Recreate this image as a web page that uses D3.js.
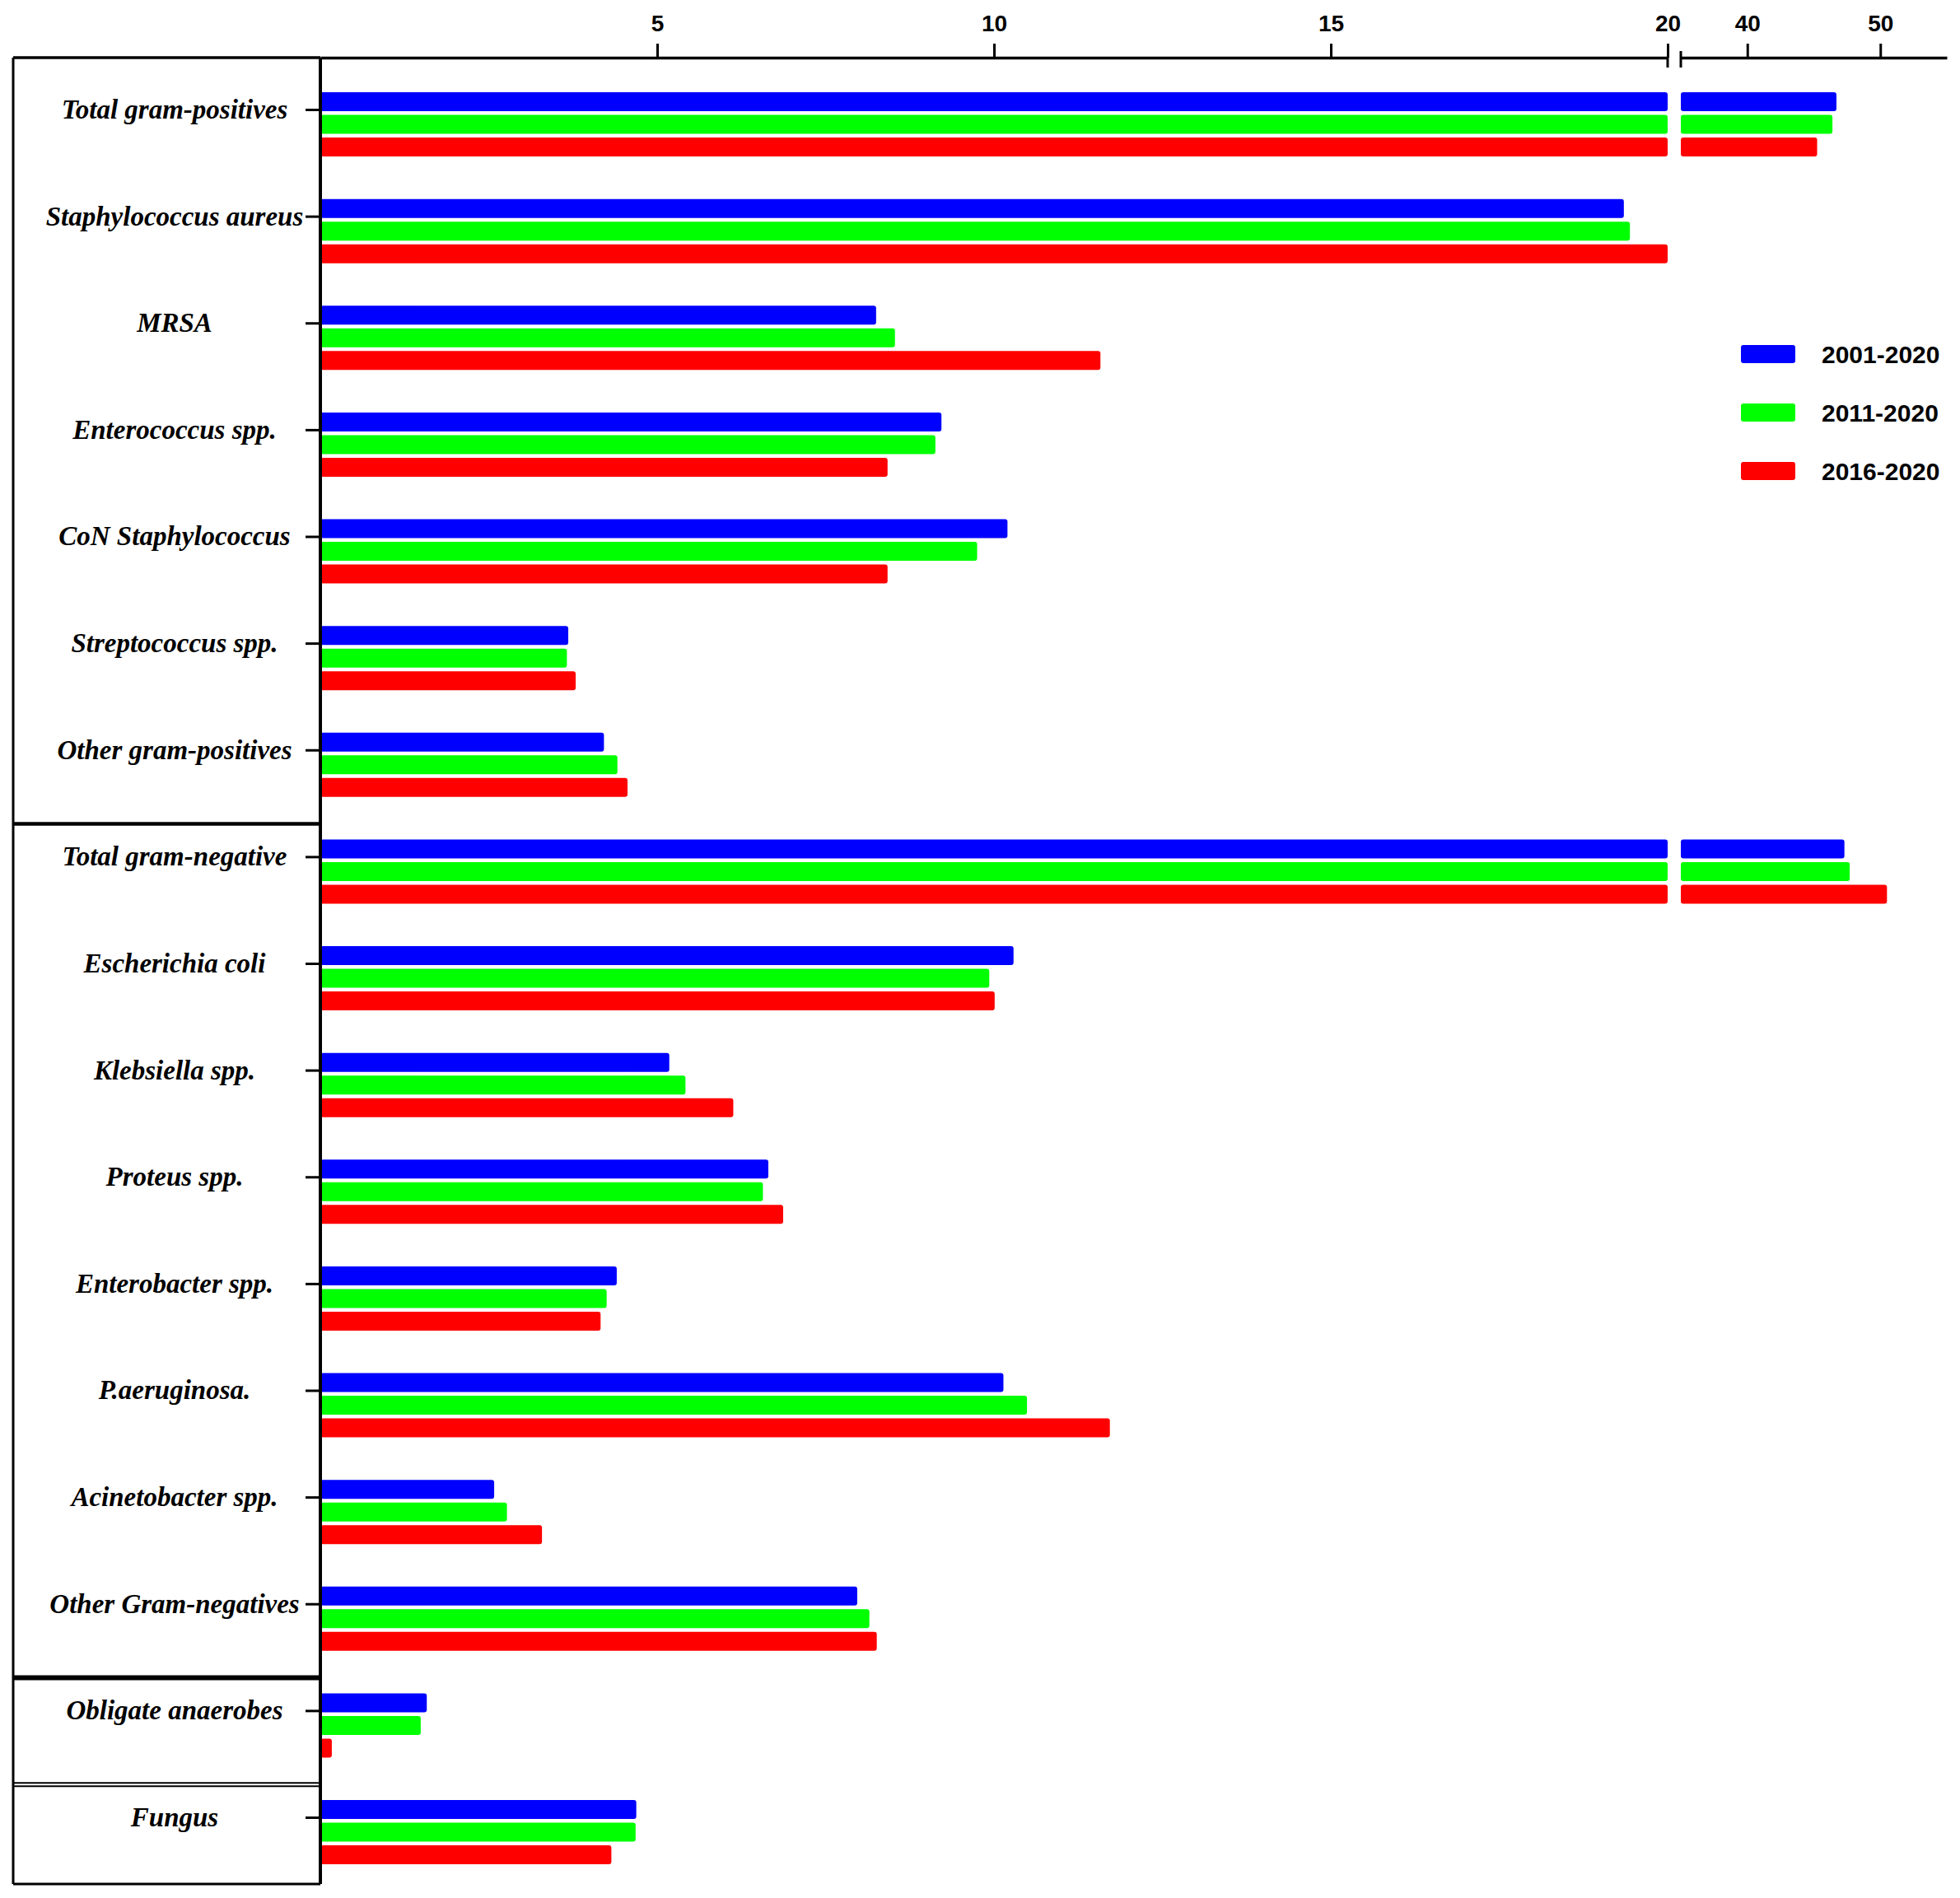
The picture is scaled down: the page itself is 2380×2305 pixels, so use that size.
<!DOCTYPE html>
<html>
<head>
<meta charset="utf-8">
<script src="https://cdn.jsdelivr.net/npm/d3@7"></script>
<style>
  body { margin: 0; background: #fff; }
  .cat { font-family: "Liberation Serif", "Times New Roman", serif; font-weight: bold; font-style: italic; font-size: 33px; }
  .tick text { font-family: "Liberation Sans", Arial, sans-serif; font-weight: bold; font-size: 28px; fill: #000; }
  .leg { font-family: "Liberation Sans", Arial, sans-serif; font-weight: bold; font-size: 30px; }
</style>
</head>
<body>
<div id="chart"></div>
<script>
const categories = [
    "Total gram-positives", "Staphylococcus aureus", "MRSA", "Enterococcus spp.",
    "CoN Staphylococcus", "Streptococcus spp.", "Other gram-positives",
    "Total gram-negative", "Escherichia coli", "Klebsiella spp.", "Proteus spp.",
    "Enterobacter spp.", "P.aeruginosa.", "Acinetobacter spp.", "Other Gram-negatives",
    "Obligate anaerobes", "Fungus"
]
const seriesNames = ["2001-2020", "2011-2020", "2016-2020"]
const s2001 = [46.7, 19.35, 8.25, 9.22, 10.2, 3.68, 4.21, 47.3, 10.29, 5.18, 6.65, 4.4, 10.14, 2.58, 7.97, 1.58, 4.69]
const s2011 = [46.4, 19.44, 8.53, 9.13, 9.75, 3.66, 4.41, 47.7, 9.93, 5.42, 6.57, 4.25, 10.49, 2.77, 8.15, 1.49, 4.68]
const s2016 = [45.25, 20.0, 11.58, 8.42, 8.42, 3.79, 4.56, 50.5, 10.01, 6.13, 6.87, 4.16, 11.72, 3.29, 8.26, 0.17, 4.32]
const leftTicks = [5, 10, 15, 20]
const rightTicks = [40, 50]
// last category of each boxed section
const sectionEnds = ["Other gram-positives", "Other Gram-negatives", "Obligate anaerobes"]

const W = 2380, H = 2305
const colors = ["#0000ff", "#00ff00", "#ff0000"]
const series = [s2001, s2011, s2016]

const cfg = {
    boxLeft: 16,
    axisX: 389,
    axisY: 70,
    boxBottom: 2288,
    barH: 23,
    barStep: 27.5,
    barOffset: -21,
    breakAt: 20,
}

const xL = d3.scaleLinear().domain([0, 20]).range([cfg.axisX, 2025])
const xR = d3.scaleLinear().domain([35, 55]).range([2041, 2364])
const y = d3.scalePoint().domain(categories).range([133, 2207])

const svg = d3.select("#chart").append("svg")
    .attr("width", W)
    .attr("height", H)
    .style("background", "#fff")

// bars: split at the axis break
const rows = categories.flatMap((c, i) => series.map((s, k) => ({c, k, v: s[i]})))
const barY = d => y(d.c) + cfg.barOffset + d.k * cfg.barStep

svg.append("g").selectAll("rect")
    .data(rows)
    .join("rect")
        .attr("x", xL(0))
        .attr("y", barY)
        .attr("width", d => xL(Math.min(d.v, cfg.breakAt)) - xL(0))
        .attr("height", cfg.barH)
        .attr("rx", 3)
        .attr("fill", d => colors[d.k])

svg.append("g").selectAll("rect")
    .data(rows.filter(d => d.v > cfg.breakAt))
    .join("rect")
        .attr("x", xR(35))
        .attr("y", barY)
        .attr("width", d => xR(d.v) - xR(35))
        .attr("height", cfg.barH)
        .attr("rx", 3)
        .attr("fill", d => colors[d.k])

// top axes
const axL = svg.append("g")
    .attr("transform", `translate(0,${cfg.axisY})`)
    .call(d3.axisTop(xL).tickValues(leftTicks).tickSize(17).tickSizeOuter(0).tickPadding(15))
const axR = svg.append("g")
    .attr("transform", `translate(0,${cfg.axisY})`)
    .call(d3.axisTop(xR).tickValues(rightTicks).tickSize(17).tickSizeOuter(0).tickPadding(15))
for (const ax of [axL, axR]) {
    ax.select(".domain").attr("stroke-width", 3.5)
    ax.selectAll(".tick line").attr("stroke-width", 3)
}

// break marks
svg.append("line")
    .attr("x1", xL(20)).attr("x2", xL(20))
    .attr("y1", cfg.axisY).attr("y2", cfg.axisY + 12)
    .attr("stroke", "#000").attr("stroke-width", 3)
svg.append("line")
    .attr("x1", xR(35)).attr("x2", xR(35))
    .attr("y1", cfg.axisY - 8).attr("y2", cfg.axisY + 12)
    .attr("stroke", "#000").attr("stroke-width", 3)

// left box with category labels
const box = svg.append("g").attr("stroke", "#000").attr("fill", "none")
box.append("line").attr("x1", cfg.boxLeft).attr("x2", cfg.axisX)
    .attr("y1", cfg.axisY).attr("y2", cfg.axisY).attr("stroke-width", 3.5)
box.append("line").attr("x1", cfg.boxLeft).attr("x2", cfg.boxLeft)
    .attr("y1", cfg.axisY).attr("y2", cfg.boxBottom).attr("stroke-width", 3)
box.append("line").attr("x1", cfg.boxLeft).attr("x2", cfg.axisX)
    .attr("y1", cfg.boxBottom).attr("y2", cfg.boxBottom).attr("stroke-width", 3)
box.append("line").attr("x1", cfg.axisX).attr("x2", cfg.axisX)
    .attr("y1", cfg.axisY).attr("y2", cfg.boxBottom).attr("stroke-width", 4)

sectionEnds.forEach((c, i) => {
    const next = categories[categories.indexOf(c) + 1]
    const yy = (y(c) + y(next)) / 2 + 25
    if (i < 2) {
        box.append("line").attr("x1", cfg.boxLeft).attr("x2", cfg.axisX)
            .attr("y1", yy).attr("y2", yy).attr("stroke-width", i === 0 ? 4.5 : 6)
    } else {
        for (const dy of [-2, 2]) {
            box.append("line").attr("x1", cfg.boxLeft).attr("x2", cfg.axisX)
                .attr("y1", yy + dy).attr("y2", yy + dy).attr("stroke-width", 2)
        }
    }
})

// y ticks
const axY = svg.append("g")
    .attr("transform", `translate(${cfg.axisX},0)`)
    .call(d3.axisLeft(y).tickSize(18).tickFormat(""))
axY.select(".domain").remove()
axY.selectAll(".tick line").attr("stroke-width", 3)

svg.append("g").selectAll("text")
    .data(categories)
    .join("text")
        .attr("class", "cat")
        .attr("x", 212)
        .attr("y", d => y(d))
        .attr("dy", "0.33em")
        .attr("text-anchor", "middle")
        .text(d => d)

// legend
const leg = svg.append("g").attr("transform", "translate(2114,430)")
    .selectAll("g")
    .data(seriesNames)
    .join("g")
        .attr("transform", (d, i) => `translate(0,${i * 71})`)
leg.append("rect")
    .attr("x", 0).attr("y", -11)
    .attr("width", 66).attr("height", 22)
    .attr("rx", 3)
    .attr("fill", (d, i) => colors[i])
leg.append("text")
    .attr("class", "leg")
    .attr("x", 98)
    .attr("dy", "0.36em")
    .text(d => d)
</script>
</body>
</html>
